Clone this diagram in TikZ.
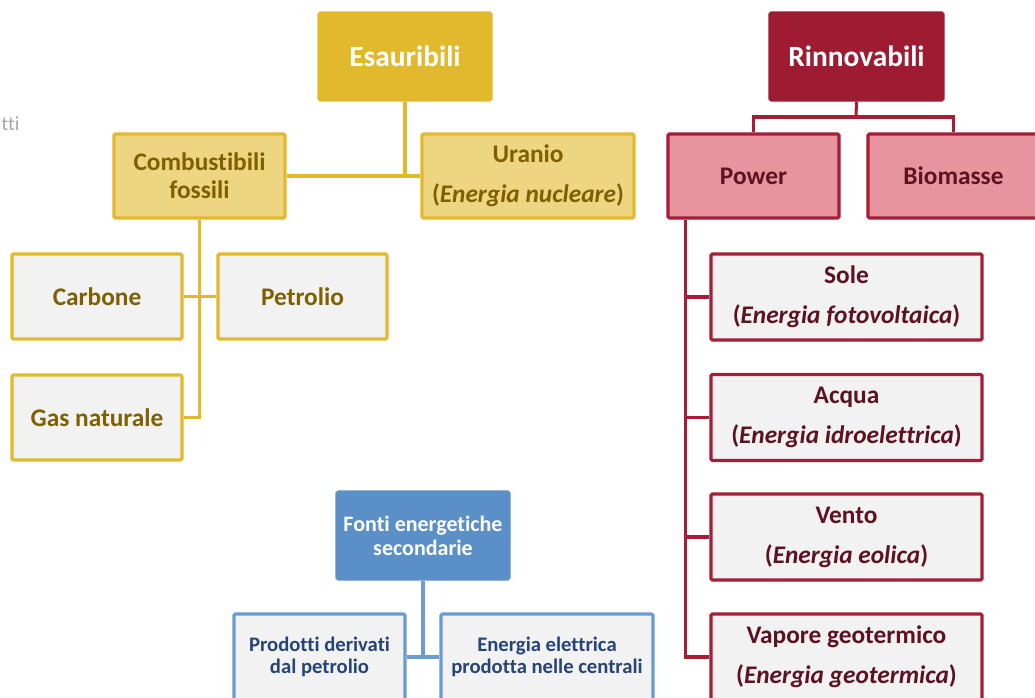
\documentclass[tikz,border=0pt]{standalone}
\usepackage{fontspec}
\setmainfont{Carlito}[Ligatures=NoCommon]
\usetikzlibrary{calc,positioning}
\definecolor{gold}{HTML}{E2B92D}
\definecolor{goldlight}{HTML}{EDD582}
\definecolor{goldtext}{HTML}{7F6000}
\definecolor{wine}{HTML}{9E1B32}
\definecolor{wineline}{HTML}{A51D37}
\definecolor{pink}{HTML}{E8949F}
\definecolor{winetext}{HTML}{5C1221}
\definecolor{azure}{HTML}{5B8FC8}
\definecolor{azureline}{HTML}{6A9BD1}
\definecolor{azuretext}{HTML}{264478}
\definecolor{paper}{HTML}{F2F2F2}
\newdimen\pxu \pxu=0.75pt

\begin{document}
\begin{tikzpicture}[x=0.75pt, y=-0.75pt,
	box/.style={draw, line width=2.3pt, rounded corners=1pt, align=center, font=\bfseries\fontsize{19}{21}\selectfont, inner sep=2pt},
	goldtop/.style={box, draw=gold, fill=gold, text=white, minimum width=172\pxu, minimum height=87\pxu, font=\bfseries\fontsize{22}{26}\selectfont},
	goldmid/.style={box, draw=gold, fill=goldlight, text=goldtext, minimum height=84\pxu},
	goldleaf/.style={box, draw=gold, fill=paper, text=goldtext, minimum width=170\pxu, minimum height=85\pxu},
	winetop/.style={box, draw=wine, fill=wine, text=white, minimum width=173\pxu, minimum height=87\pxu, font=\bfseries\fontsize{22}{26}\selectfont},
	winemid/.style={box, draw=wineline, fill=pink, text=winetext, minimum width=171\pxu, minimum height=84\pxu},
	wineleaf/.style={box, draw=wineline, fill=paper, text=winetext, minimum width=271\pxu, minimum height=86\pxu},
	azuretop/.style={box, draw=azure, fill=azure, text=white, minimum width=172\pxu, minimum height=87\pxu, font=\bfseries\fontsize{16.5}{18}\selectfont},
	azureleaf/.style={box, draw=azureline, fill=paper, text=azuretext, minimum height=86\pxu, font=\bfseries\fontsize{15.5}{16.5}\selectfont},
	goldwire/.style={draw=gold, line width=2.3pt},
	winewire/.style={draw=wineline, line width=2.3pt},
	azurewire/.style={draw=azureline, line width=2.3pt}]
	\useasboundingbox (0,0) rectangle (1035,698);
	\node[anchor=west, text=black!35, font=\fontsize{15}{18}\selectfont] (cut) at (-3,124) {tti};

	\node[goldtop] (esaur) at (405,56.5) {Esauribili};
	\node[goldmid, minimum width=171\pxu] (comb) at (199.5,176) {Combustibili\\fossili};
	\node[goldmid, minimum width=212\pxu] (uran) at (528,176) {Uranio\\[9pt](\textit{Energia nucleare})};
	\node[goldleaf] (carb) at (97,296.5) {Carbone};
	\node[goldleaf, minimum width=169\pxu] (petr) at (302.5,296.5) {Petrolio};
	\node[goldleaf] (gas) at (97,417.5) {Gas naturale};

	\node[winetop] (rinn) at (856.5,56.5) {Rinnovabili};
	\node[winemid] (power) at (753.5,176) {Power};
	\node[winemid] (biom) at (953.5,176) {Biomasse};
	\node[wineleaf] (sole) at (846.5,297) {Sole\\[9pt](\textit{Energia fotovoltaica})};
	\node[wineleaf] (acqua) at (846.5,417.5) {Acqua\\[9pt](\textit{Energia idroelettrica})};
	\node[wineleaf] (vento) at (846.5,537) {Vento\\[9pt](\textit{Energia eolica})};
	\node[wineleaf] (vapore) at (846.5,657) {Vapore geotermico\\[9pt](\textit{Energia geotermica})};

	\node[azuretop] (fonti) at (423,535.5) {Fonti energetiche\\secondarie};
	\node[azureleaf, minimum width=171\pxu] (prod) at (319.5,657) {Prodotti derivati\\dal petrolio};
	\node[azureleaf, minimum width=212\pxu] (enel) at (547,657) {Energia elettrica\\prodotta nelle centrali};

	\coordinate (cbar) at (comb.south |- gas.east);
	\draw[goldwire] (esaur.south) -- (esaur.south |- comb.east);
	\draw[goldwire] (comb.east) -- (uran.west);
	\draw[goldwire] (comb.south) -- (cbar) -- (gas.east);
	\draw[goldwire] (carb.east) -- (petr.west);

	\coordinate (rbar) at (856,117);
	\coordinate (ptop) at ($(power.south west)+(19,0)$);
	\draw[winewire] (rinn.south) -- (rbar);
	\draw[winewire] (power.north) |- (rbar) -| (biom.north);
	\draw[winewire] (ptop) |- (vapore.west);
	\foreach \n in {sole,acqua,vento}
		\draw[winewire] (ptop |- \n.west) -- (\n.west);

	\draw[azurewire] (fonti.south) -- (fonti.south |- prod.east);
	\draw[azurewire] (prod.east) -- (enel.west);
\end{tikzpicture}
\end{document}
